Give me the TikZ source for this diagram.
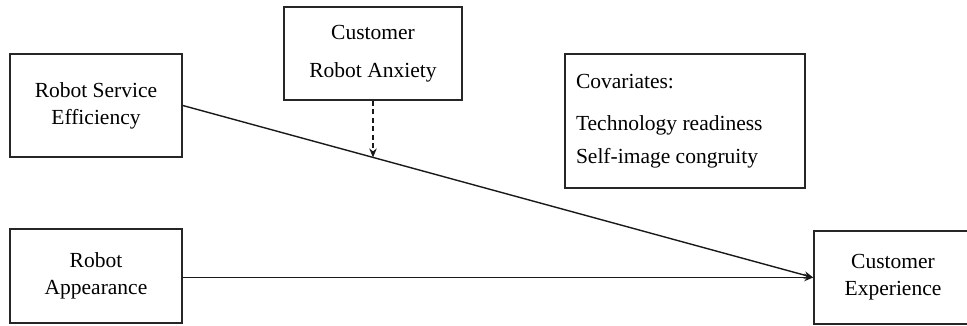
\documentclass[tikz,border=0pt]{standalone}
\usepackage{fontspec}
\setmainfont{Liberation Serif}
\usetikzlibrary{arrows.meta,calc}

\tikzset{
  box/.style={draw=black!85, line width=1.6pt, rectangle, inner sep=0pt,
    align=center, font=\fontsize{21.5}{27}\selectfont},
  link/.style={draw=black!90, line width=1.4pt,
    -{Stealth[length=9pt,width=7.5pt]}},
  moderation/.style={link, dashed, dash pattern=on 5pt off 3.5pt},
}

\begin{document}
\begin{tikzpicture}[x=1pt,y=-1pt]
  \useasboundingbox (0,0) rectangle (967,325);

  % constructs
  \node[box, minimum width=172pt, minimum height=103pt] (rse) at (96,105.5)
    {Robot Service\\Efficiency};
  \node[box, minimum width=172pt, minimum height=94pt] (ra) at (96,276)
    {Robot\\Appearance};
  \node[box, minimum width=178pt, minimum height=93pt,
        font=\fontsize{21.5}{38}\selectfont] (cra) at (373,53.5)
    {Customer\\Robot Anxiety};
  \node[box, minimum width=158pt, minimum height=93pt] (ce) at (893,277.5)
    {Customer\\Experience};
  \node[box, minimum width=240pt, minimum height=134pt, align=left,
        font=\fontsize{21.5}{33}\selectfont] (cov) at (685,121)
    {\makebox[218pt][l]{Covariates:}\\[9pt]Technology readiness\\Self-image congruity};

  % paths
  \draw[link] (rse.east) -- (ce.west);
  \draw[link] (ra.east |- ce.west) -- (ce.west);

  % moderator acting on the efficiency path
  \coordinate (mod) at ($(rse.east)!0.302!(ce.west)$);
  \draw[moderation] (cra.south) -- (cra.south |- mod);
\end{tikzpicture}
\end{document}
